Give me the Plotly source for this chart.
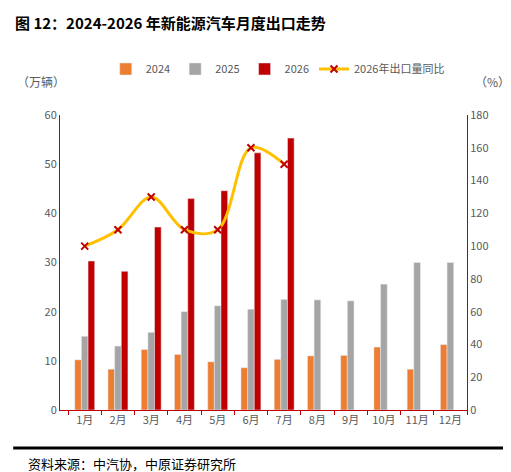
import plotly.graph_objects as go

months = [f"{i}月" for i in range(1, 13)]
v2024 = [10.2, 8.3, 12.3, 11.3, 9.8, 8.6, 10.3, 11.0, 11.1, 12.8, 8.3, 13.3]
v2025 = [15.0, 13.0, 15.8, 20.0, 21.2, 20.5, 22.5, 22.4, 22.2, 25.6, 30.0, 30.0]
v2026 = [30.3, 28.2, 37.2, 43.0, 44.6, 52.3, 55.3]
yoy2026 = [100, 110, 130, 110, 110, 160, 150]

font = "Noto Sans CJK SC"
fig = go.Figure()
fig.add_bar(x=months, y=v2024, name="2024", marker_color="#ED7D31")
fig.add_bar(x=months, y=v2025, name="2025", marker_color="#A5A5A5")
fig.add_bar(x=months[:7], y=v2026, name="2026", marker_color="#C00000")
fig.add_scatter(x=months[:7], y=yoy2026, name="2026年出口量同比", yaxis="y2",
                mode="lines+markers", line=dict(color="#FFC000", width=3, shape="spline", smoothing=1),
                marker=dict(symbol="x-thin", size=7, line=dict(color="#C00000", width=2), color="#C00000"))

fig.update_layout(
    width=511, height=472, margin=dict(l=52, r=52, t=107, b=70),
    plot_bgcolor="white", paper_bgcolor="white",
    font=dict(family=font, size=11, color="#595959"),
    barmode="group", bargap=0.4, bargroupgap=0,
    legend=dict(orientation="h", x=0.535, xanchor="center", y=1.156, yanchor="middle",
                font=dict(size=11), traceorder="normal", itemwidth=30),
    xaxis=dict(showline=True, linecolor="#C00000", ticks="outside", tickcolor="#C00000",
               ticklen=4, showgrid=False, tickson="boundaries"),
    yaxis=dict(range=[0, 60], dtick=10, showline=True, linecolor="#C00000", showgrid=False,
               ticks="", zeroline=False),
    yaxis2=dict(range=[0, 180], dtick=20, overlaying="y", side="right", showline=True,
                linecolor="#C00000", showgrid=False, zeroline=False),
    annotations=[
        dict(text="<b>图 12：2024-2026 年新能源汽车月度出口走势</b>", x=-0.115, y=1.312, xref="paper", yref="paper",
             xanchor="left", yanchor="middle", showarrow=False, font=dict(size=15, color="black")),
        dict(text="（万辆）", x=-0.11, y=1.115, xref="paper", yref="paper", xanchor="left",
             yanchor="middle", showarrow=False, font=dict(size=12)),
        dict(text="（%）", x=1.11, y=1.115, xref="paper", yref="paper", xanchor="right",
             yanchor="middle", showarrow=False, font=dict(size=12)),
        dict(text="资料来源：中汽协，中原证券研究所", x=-0.084, y=-0.183, xref="paper", yref="paper",
             xanchor="left", yanchor="middle", showarrow=False, font=dict(size=13, color="black")),
    ],
    shapes=[
        dict(type="line", xref="paper", yref="paper", x0=-0.115, x1=1.115, y0=-0.129, y1=-0.129,
             line=dict(color="black", width=3)),
    ],
)
fig.write_html("out.html")
